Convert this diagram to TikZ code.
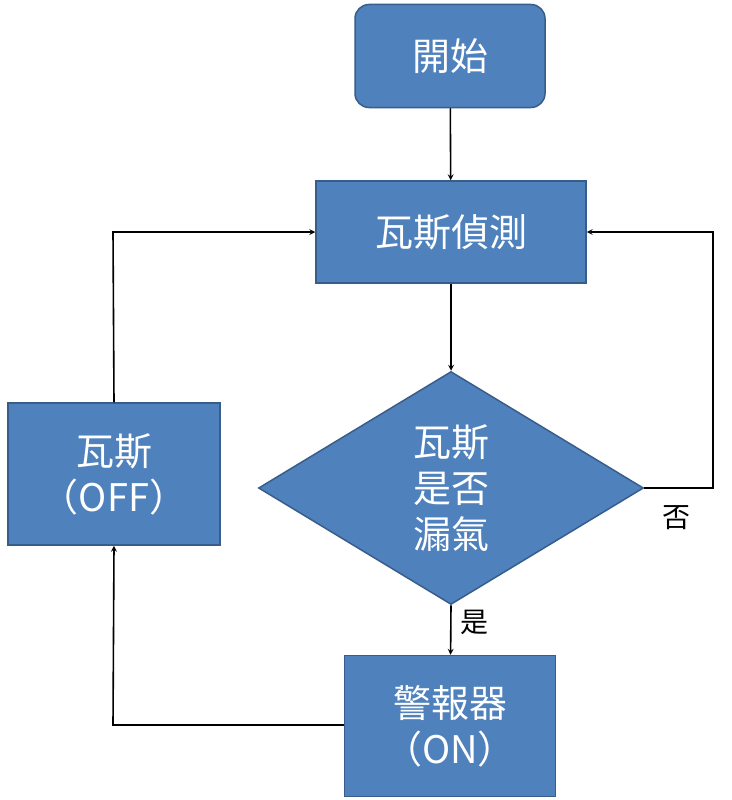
\documentclass[tikz,border=0pt]{standalone}
\usepackage{fontspec}
\setmainfont{Liberation Serif}
\newfontfamily\cjk{Noto Sans CJK TC}
\usetikzlibrary{shapes.geometric, positioning, arrows}
\definecolor{boxblue}{HTML}{4F81BD}
\definecolor{boxline}{HTML}{385D8A}
\tikzset{
    >=stealth, % arrow heads
    box/.style={draw=boxline, line width=1.5pt, fill=boxblue, text=white, align=center,
        font=\cjk\fontsize{38}{46}\selectfont, inner sep=0pt},
    flow/.style={->, line width=1.6pt},
    lbl/.style={font=\cjk\fontsize{28}{30}\selectfont},
}
\begin{document}
\begin{tikzpicture}[x=1pt, y=-1pt]
    \useasboundingbox (0,0) rectangle (731,800);
    \node[box, rounded corners=14pt, minimum width=190pt, minimum height=103pt] (start) at (450,56) {開始};
    \node[box, minimum width=270pt, minimum height=102pt] (detect) at (451,232) {瓦斯偵測};
    \node[box, diamond, aspect=1.65, minimum width=385pt, minimum height=233pt] (leak) at (451,488) {瓦斯\\是否\\漏氣};
    \node[box, minimum width=212pt, minimum height=142pt] (off) at (114,474) {瓦斯\\（OFF）};
    \node[box, minimum width=211pt, minimum height=141pt] (on) at (450,726) {警報器\\（ON）};
    \coordinate (rtop) at (713,232);
    \coordinate (rbot) at (713,488);
    \coordinate (ltop) at (113,232);
    \coordinate (lbot) at (113,725);
    \draw[flow] (start) -- (detect);
    \draw[flow] (detect) -- (leak.north);
    \draw[flow] (leak.south) -- (on) node[lbl, pos=0.35, right=6pt] {是};
    \draw[flow] (leak.east) -- (rbot) -- (rtop) -- (detect.east);
    \node[lbl] (no) at (676,518) {否};
    \draw[flow] (on.west |- lbot) -- (lbot) -- (off.south);
    \draw[flow] (off.north) -- (ltop) -- (detect.west);
\end{tikzpicture}
\end{document}
